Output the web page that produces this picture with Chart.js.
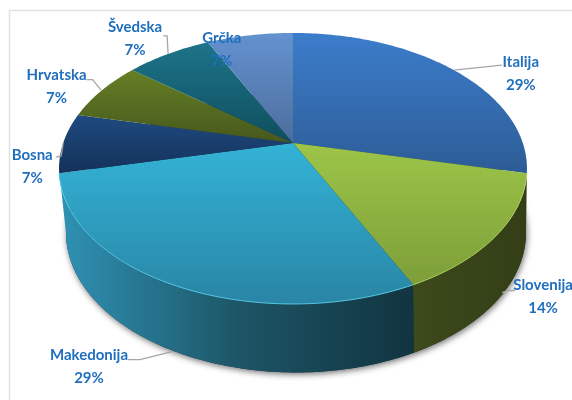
<!DOCTYPE html>
<html><head><meta charset="utf-8">
<style>html,body{margin:0;padding:0;background:#fff}#w{position:absolute;left:0;top:0;width:572px;height:400px}canvas{filter:blur(.35px)}</style>
<script src="https://cdn.jsdelivr.net/npm/chart.js@4"></script>
</head><body><div id="w"><canvas id="c" width="572" height="400"></canvas></div>
<script>
const categories = ['Italija','Slovenija','Makedonija','Bosna','Hrvatska','Švedska','Grčka'];
const counts = [4,2,4,1,1,1,1];
const topColors = ['#3c7dcb','#9dc548','#33b3d6','#1f4a80','#667f25','#1d7489','#6492d0'];
const lowColors = ['#2c5c96','#7d9e39','#2985a5','#14325a','#46581c','#0f4e5e','#4c6d9c'];
const rimColors = [null,'#b0d060','#55c8e4',null,null,null,null];
const wallStops = [null,['#3d4a1a','#333e17'],['#2f92b4','#26748f','#1d5667','#174452','#113440'],null,null,null,null];
// placement relative to each wedge's rim anchor
const labelOffset = [[67,-8],[47,-16],[-89,3],[-31,12],[-45,-15],[-33,-27],[-28,3]];
const leaderStart = [[0,0],[6,-9],[-6,-1],[0,0],[0,0],[0,0],null];
const leaderBend  = [[48,-5],[12,-11],[-38,7],[-2,13],[-9,-11],[-1,-18],null];
const leaderEnd   = [[48,-5],[19,-11],[-50,7],[-7,14],[-15,-11],[-5,-18],null];
const onWall = [false,true,true,false,false,false,false];
const wallLead = [0,0.03,0,0,0,0,0];
const wallTail = [0,0,0.03,0,0,0,0];

const K=0.188, AX=1.607, BY=0.914;
function topPt(a,c,r){const u=Math.cos(a),v=Math.sin(a),w=1-K*v;return {x:c.x+r*AX*u/w,y:c.y+r*BY*v/w};}
function botPt(a,c,r){const p=topPt(a,c,r);const mx=c.x,my=c.y+r*0.178;
  return {x:mx+r*0.021+0.983*(p.x-mx),y:my+r*0.4476+1.033*(p.y-my)};}
function span(s,e){const n=Math.max(4,Math.ceil((e-s)*60));const o=[];for(let i=0;i<=n;i++)o.push(s+(e-s)*i/n);return o;}

function drawTilted(ctx){
  const c={x:this.x,y:this.y},r=this.outerRadius,i=this.$context.dataIndex;
  const pts=span(this.startAngle,this.endAngle).map(a=>topPt(a,c,r));
  const ys=pts.map(p=>p.y).concat(c.y);
  const g=ctx.createLinearGradient(0,Math.min(...ys),0,Math.max(...ys));
  g.addColorStop(0,topColors[i]);g.addColorStop(1,lowColors[i]);
  ctx.save();ctx.beginPath();ctx.moveTo(c.x,c.y);pts.forEach(p=>ctx.lineTo(p.x,p.y));ctx.closePath();
  ctx.fillStyle=g;ctx.fill();
  if(rimColors[i]){ctx.beginPath();pts.forEach((p,k)=>k?ctx.lineTo(p.x,p.y):ctx.moveTo(p.x,p.y));
    ctx.strokeStyle=rimColors[i];ctx.lineWidth=1;ctx.stroke();}
  ctx.restore();
}
const tilted={id:'tilted',
 beforeDraw(chart){const x=chart.ctx;x.save();x.strokeStyle='#e2e2e2';x.lineWidth=1.5;x.beginPath();
   x.moveTo(9.5,400);x.lineTo(9.5,10.5);x.lineTo(572,10.5);x.stroke();x.restore();},
 beforeDatasetsDraw(chart){
  const x=chart.ctx,arcs=chart.getDatasetMeta(0).data;
  const c={x:arcs[0].x,y:arcs[0].y},r=arcs[0].outerRadius;
  x.save();x.shadowColor='rgba(0,0,0,.55)';x.shadowBlur=6;x.shadowOffsetY=2;x.shadowOffsetX=1;
  x.fillStyle='#234';x.beginPath();
  span(0,Math.PI*2).forEach((a,k)=>{const p=botPt(a,c,r);k?x.lineTo(p.x,p.y):x.moveTo(p.x,p.y);});
  x.closePath();x.fill();x.restore();
  arcs.forEach((arc,i)=>{
    arc.draw=drawTilted;
    if(!wallStops[i])return;
    const s=span(arc.startAngle-wallLead[i],arc.endAngle+wallTail[i]),t=s.map(a=>topPt(a,c,r)),b=s.map(a=>botPt(a,c,r));
    const xs=t.concat(b).map(p=>p.x),l=Math.min(...xs),h=Math.max(...xs);
    const gg=x.createLinearGradient(l,0,h,0),st=wallStops[i];
    st.forEach((col,k)=>gg.addColorStop(k/(st.length-1),col));
    x.beginPath();t.forEach((p,k)=>k?x.lineTo(p.x,p.y):x.moveTo(p.x,p.y));
    b.reverse().forEach(p=>x.lineTo(p.x,p.y));x.closePath();x.fillStyle=gg;x.fill();
  });
 },
 afterDatasetsDraw(chart){
  const x=chart.ctx,arcs=chart.getDatasetMeta(0).data,total=counts.reduce((a,b)=>a+b,0);
  const c={x:arcs[0].x,y:arcs[0].y},r=arcs[0].outerRadius;
  arcs.forEach((arc,i)=>{
    const mid=(arc.startAngle+arc.endAngle)/2,p=onWall[i]?botPt(mid,c,r):topPt(mid,c,r);
    if(leaderBend[i]){x.save();x.strokeStyle='#a6a6a6';x.lineWidth=1.3;x.beginPath();
      x.moveTo(p.x+leaderStart[i][0],p.y+leaderStart[i][1]);
      x.lineTo(p.x+leaderBend[i][0],p.y+leaderBend[i][1]);x.lineTo(p.x+leaderEnd[i][0],p.y+leaderEnd[i][1]);x.stroke();x.restore();}
    const tx=p.x+labelOffset[i][0],ty=p.y+labelOffset[i][1];
    x.save();x.font="bold 15px Lato,'Liberation Sans',sans-serif";x.fillStyle='#1f6fbe';
    x.textAlign='center';x.textBaseline='middle';
    x.fillText(categories[i],tx,ty);
    x.fillText(Math.round(counts[i]/total*100)+'%',tx,ty+23);x.restore();
  });
 }};
new Chart(document.getElementById('c'),{type:'pie',
 data:{labels:categories,datasets:[{data:counts,backgroundColor:topColors,borderWidth:0}]},
 options:{responsive:false,animation:false,
  layout:{padding:{left:14,right:0,top:0,bottom:114}},
  plugins:{legend:{display:false},tooltip:{enabled:false}}},
 plugins:[tilted]});
</script></body></html>
